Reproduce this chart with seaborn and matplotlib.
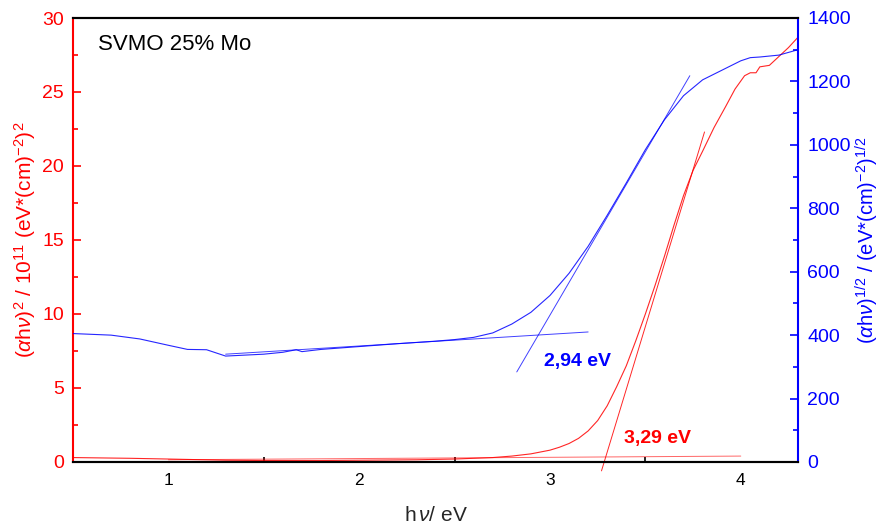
import matplotlib
matplotlib.use("Agg")
import matplotlib.pyplot as plt
import seaborn as sns
import numpy as np
import pandas as pd
from matplotlib.ticker import MultipleLocator

# ---------------- data ----------------
# (alpha h nu)^2 / 1e11  -- left axis, red
red_x = [0.5, 0.8, 1.0, 1.3, 1.5, 1.8, 2.0, 2.3, 2.5, 2.7, 2.8, 2.9, 3.0, 3.05, 3.1, 3.15, 3.2,
         3.25, 3.3, 3.35, 3.4, 3.45, 3.5, 3.55, 3.6, 3.65, 3.7, 3.75, 3.8, 3.86, 3.92, 3.97,
         4.02, 4.05, 4.08, 4.1, 4.15, 4.2, 4.25, 4.3]
red_y = [0.30, 0.25, 0.20, 0.12, 0.10, 0.10, 0.12, 0.15, 0.20, 0.30, 0.40, 0.55, 0.80, 1.0, 1.25,
         1.6, 2.1, 2.8, 3.8, 5.1, 6.5, 8.2, 10.0, 11.9, 13.9, 16.0, 18.0, 19.7, 21.0, 22.6,
         24.0, 25.2, 26.1, 26.3, 26.3, 26.7, 26.8, 27.4, 28.0, 28.7]
# (alpha h nu)^(1/2)  -- right axis, blue
blue_x = [0.5, 0.7, 0.85, 1.0, 1.1, 1.2, 1.3, 1.4, 1.5, 1.6, 1.67, 1.7, 1.8, 2.0, 2.2, 2.4,
          2.5, 2.6, 2.7, 2.8, 2.9, 3.0, 3.1, 3.2, 3.3, 3.4, 3.5, 3.6, 3.7, 3.75, 3.8, 3.9,
          4.0, 4.05, 4.1, 4.2, 4.3]
blue_y = [405, 400, 388, 368, 355, 354, 334, 337, 340, 346, 354, 348, 355, 364, 373, 381,
          386, 393, 407, 435, 472, 525, 595, 680, 778, 880, 985, 1079, 1155, 1180, 1205, 1235,
          1265, 1275, 1277, 1283, 1300]

# tangent / baseline fit lines (endpoints)
red_tan_x = [3.27, 3.81]
red_tan_y = [-0.6, 22.3]
red_base_x = [1.0, 4.0]
red_base_y = [0.15, 0.40]
blue_tan_x = [2.826, 3.733]
blue_tan_y = [284, 1218]
blue_base_x = [1.3, 3.2]
blue_base_y = [340, 410]

gap_blue = "2,94 eV"
gap_red = "3,29 eV"
sample = "SVMO 25% Mo"

# ---------------- style ----------------
sns.set_theme(style="white")
plt.rcParams["font.family"] = ["Liberation Sans", "DejaVu Sans"]
plt.rcParams["mathtext.fontset"] = "custom"
plt.rcParams["mathtext.rm"] = "Liberation Sans"
plt.rcParams["mathtext.it"] = "Liberation Sans:italic"
plt.rcParams["mathtext.bf"] = "Liberation Sans:bold"

RED = "#ff0000"
BLUE = "#0000ff"

fig = plt.figure(figsize=(8.81, 5.29), dpi=100)
ax = fig.add_axes([73 / 881, 1 - 462 / 529, (798 - 73) / 881, (462 - 18) / 529])
ax2 = ax.twinx()

df_red = pd.DataFrame({"x": red_x, "y": red_y})
df_blue = pd.DataFrame({"x": blue_x, "y": blue_y})

sns.lineplot(data=df_red, x="x", y="y", ax=ax, color=RED, lw=0.8, alpha=0.85, sort=False)
sns.lineplot(x=red_tan_x, y=red_tan_y, ax=ax, color=RED, lw=0.7, alpha=0.85, clip_on=False)
sns.lineplot(x=red_base_x, y=red_base_y, ax=ax, color=RED, lw=0.7, alpha=0.6)

sns.lineplot(data=df_blue, x="x", y="y", ax=ax2, color=BLUE, lw=0.8, alpha=0.85, sort=False)
sns.lineplot(x=blue_tan_x, y=blue_tan_y, ax=ax2, color=BLUE, lw=0.7, alpha=0.75)
sns.lineplot(x=blue_base_x, y=blue_base_y, ax=ax2, color=BLUE, lw=0.7, alpha=0.75)

ax.set_xlim(0.5, 4.3)
ax.set_ylim(0, 30)
ax2.set_ylim(0, 1400)

ax.xaxis.set_major_locator(MultipleLocator(1))
ax.xaxis.set_minor_locator(MultipleLocator(0.5))
ax.yaxis.set_major_locator(MultipleLocator(5))
ax.yaxis.set_minor_locator(MultipleLocator(2.5))
ax2.yaxis.set_major_locator(MultipleLocator(200))
ax2.yaxis.set_minor_locator(MultipleLocator(100))

ax.tick_params(axis="x", which="major", direction="in", length=6, width=1.2, colors="black",
               labelsize=12.5, pad=8, top=False)
ax.tick_params(axis="x", which="minor", direction="in", length=3.5, width=1.2, colors="black",
               bottom=True, top=False)
ax.tick_params(axis="y", which="major", direction="in", length=6, width=1.2, colors=RED,
               labelsize=14, pad=6.5)
ax.tick_params(axis="y", which="minor", direction="in", length=3.5, width=1.2, colors=RED, left=True)
ax2.tick_params(axis="y", which="major", direction="in", length=6, width=1.2, colors=BLUE,
                labelsize=14, pad=6.5)
ax2.tick_params(axis="y", which="minor", direction="in", length=3.5, width=1.2, colors=BLUE, right=True)

for a in (ax, ax2):
    for s in a.spines.values():
        s.set_linewidth(1.5)
        s.set_color("black")
ax.spines["left"].set_color(RED)
ax2.spines["left"].set_visible(False)
ax2.spines["right"].set_color(BLUE)
ax.spines["right"].set_visible(False)

ax.set_xlabel(r"h$\,\it{\nu}$/ eV", fontsize=15, labelpad=13)
ax.set_ylabel(r"($\it{\alpha}$h$\it{\nu}$)$^2$ / 10$^{11}$ (eV*(cm)$^{-2}$)$^2$", fontsize=15,
              color=RED, labelpad=3)
ax2.set_ylabel(r"($\it{\alpha}$h$\it{\nu}$)$^{1/2}$ / (eV*(cm)$^{-2}$)$^{1/2}$", fontsize=14.5,
               color=BLUE, rotation=90, labelpad=2.5)

ax.text(0.034, 0.94, sample, transform=ax.transAxes, fontsize=16, ha="left", va="center",
        color="black")
ax2.text(2.97, 318, gap_blue, fontsize=14, fontweight="bold", color=BLUE, ha="left", va="center")
ax.text(3.39, 1.6, gap_red, fontsize=14, fontweight="bold", color=RED, ha="left", va="center")

ax.set_zorder(1)
ax2.set_zorder(2)
ax2.patch.set_visible(False)

fig.savefig("out.png", dpi=100)
